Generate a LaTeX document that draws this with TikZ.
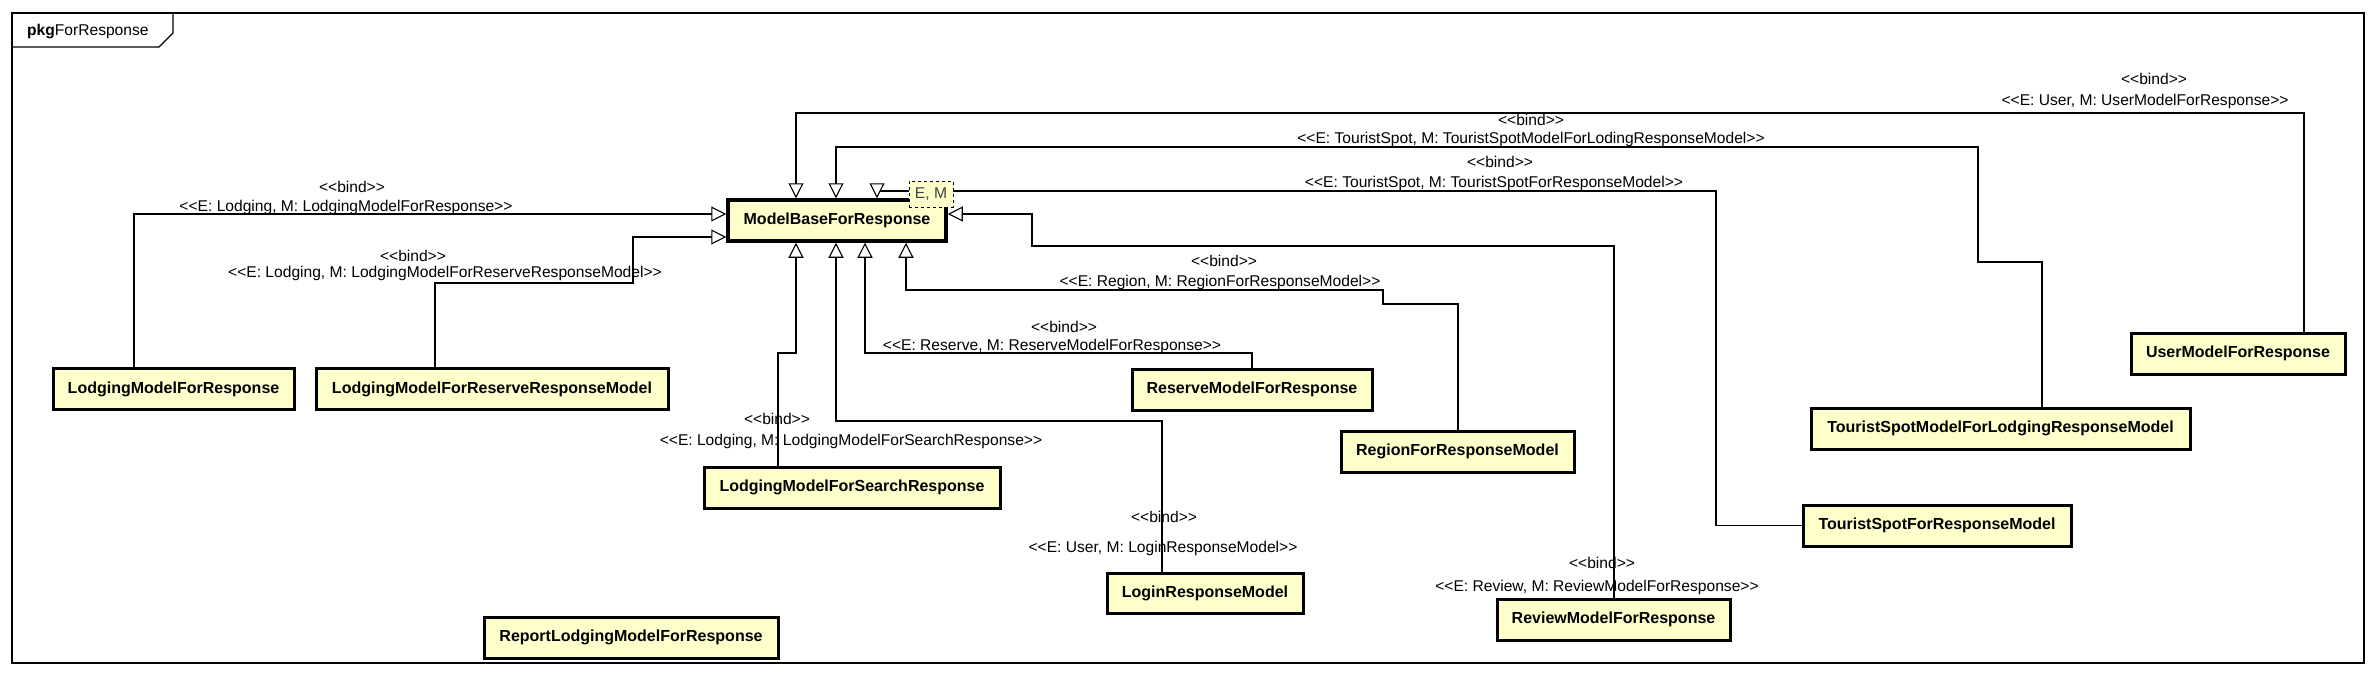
\documentclass[tikz,border=0pt]{standalone}
\usepackage{fontspec}
\setmainfont{Liberation Sans}
\newfontfamily\lf{Liberation Sans}
\usetikzlibrary{arrows.meta}
\definecolor{cls}{RGB}{255,255,204}
\begin{document}
\begin{tikzpicture}[x=1pt,y=-1pt,
  cbox/.style={draw=black, line width=3pt, fill=cls, inner sep=0pt,
    font=\fontsize{16pt}{19pt}\selectfont\bfseries, minimum height=41pt},
  lbl/.style={inner sep=0pt, font=\lf\fontsize{15.6pt}{18pt}\selectfont},
  bind/.style={draw=black, line width=1.1pt},
  gen/.style={draw=black, line width=1.1pt, -{Triangle[open, length=15pt, width=15pt, fill=white]}}]
\useasboundingbox (0,0) rectangle (2377,677);
% frame
\draw[line width=1.3pt] (12,13) rectangle (2364,663);
\draw[line width=1.3pt] (12,47) -- (159,47) -- (173,33) -- (173,13);
\node[lbl, anchor=west] (pkg) at (27,32) {\textbf{pkg}ForResponse};
% classes
\node[cbox, line width=3.5pt, minimum width=218pt] (MB) at (837,220.5) {ModelBaseForResponse};
\node[cbox, minimum width=241pt] (LMFR) at (173.5,389) {LodgingModelForResponse};
\node[cbox, minimum width=352pt] (LMFRRM) at (492,389) {LodgingModelForReserveResponseModel};
\node[cbox, minimum width=294pt] (Report) at (631,637.5) {ReportLodgingModelForResponse};
\node[cbox, minimum width=296pt] (LMFSR) at (852,487.5) {LodgingModelForSearchResponse};
\node[cbox, minimum width=240pt] (Reserve) at (1252,389.5) {ReserveModelForResponse};
\node[cbox, minimum width=196pt, minimum height=40pt] (Login) at (1205,593) {LoginResponseModel};
\node[cbox, minimum width=233pt] (Region) at (1457.5,451.5) {RegionForResponseModel};
\node[cbox, minimum width=233pt] (Review) at (1613.5,619.5) {ReviewModelForResponse};
\node[cbox, minimum width=268pt] (TSFRM) at (1937,525.5) {TouristSpotForResponseModel};
\node[cbox, minimum width=379pt] (TSMFLRM) at (2000.5,428.5) {TouristSpotModelForLodgingResponseModel};
\node[cbox, minimum width=214pt] (User) at (2238,353.5) {UserModelForResponse};
% connectors
\draw[gen] (LMFR.north -| 134,0) |- (MB.west |- 0,214);
\draw[gen] (LMFRRM.north -| 435,0) |- (633,283) |- (MB.west |- 0,237);
\draw[gen] (LMFSR.north -| 778,0) |- (796,353) -- (MB.south -| 796,0);
\draw[gen] (Reserve.north) |- (865,353) -- (MB.south -| 865,0);
\draw[gen] (Login.north -| 1162,0) |- (836,421) -- (MB.south -| 836,0);
\draw[gen] (Region.north -| 1458,0) |- (1383,304) |- (906,290) -- (MB.south -| 906,0);
\draw[gen] (Review.north -| 1614,0) |- (1032,246) |- (MB.east |- 0,214);
\draw[bind] (TSFRM.west) -| (1716,191) -- (877,191);
\draw[gen] (877,185) -- (MB.north -| 877,0);
\draw[gen] (TSMFLRM.north -| 2042,0) |- (1978,262) |- (836,147) -- (MB.north -| 836,0);
\draw[gen] (User.north -| 2304,0) |- (796,113) -- (MB.north -| 796,0);
% template parameter box
\node[draw=black, dashed, line width=0.8pt, fill=cls, inner sep=0pt, minimum width=44pt, minimum height=26pt,
  font=\lf\fontsize{15.6pt}{18pt}\selectfont, text=black!75] (tpl) at (931,194) {E, M};
% labels
\node[lbl] (l1a) at (352,187) {<<bind>>};
\node[lbl] (l1b) at (346,207) {<<E: Lodging, M: LodgingModelForResponse>>};
\node[lbl] (l2a) at (413,256) {<<bind>>};
\node[lbl] (l2b) at (445,273) {<<E: Lodging, M: LodgingModelForReserveResponseModel>>};
\node[lbl] (l3a) at (777,419) {<<bind>>};
\node[lbl] (l3b) at (851,441) {<<E: Lodging, M: LodgingModelForSearchResponse>>};
\node[lbl] (l4a) at (1064,327) {<<bind>>};
\node[lbl] (l4b) at (1052,346) {<<E: Reserve, M: ReserveModelForResponse>>};
\node[lbl] (l5a) at (1164,517) {<<bind>>};
\node[lbl] (l5b) at (1163,548) {<<E: User, M: LoginResponseModel>>};
\node[lbl] (l6a) at (1224,261) {<<bind>>};
\node[lbl] (l6b) at (1220,282) {<<E: Region, M: RegionForResponseModel>>};
\node[lbl] (l7a) at (1602,563) {<<bind>>};
\node[lbl] (l7b) at (1597,587) {<<E: Review, M: ReviewModelForResponse>>};
\node[lbl] (l8a) at (1500,162) {<<bind>>};
\node[lbl] (l8b) at (1494,183) {<<E: TouristSpot, M: TouristSpotForResponseModel>>};
\node[lbl] (l9a) at (1531,120) {<<bind>>};
\node[lbl] (l9b) at (1531,139) {<<E: TouristSpot, M: TouristSpotModelForLodingResponseModel>>};
\node[lbl] (l10a) at (2154,79) {<<bind>>};
\node[lbl] (l10b) at (2145,101) {<<E: User, M: UserModelForResponse>>};
\end{tikzpicture}
\end{document}
